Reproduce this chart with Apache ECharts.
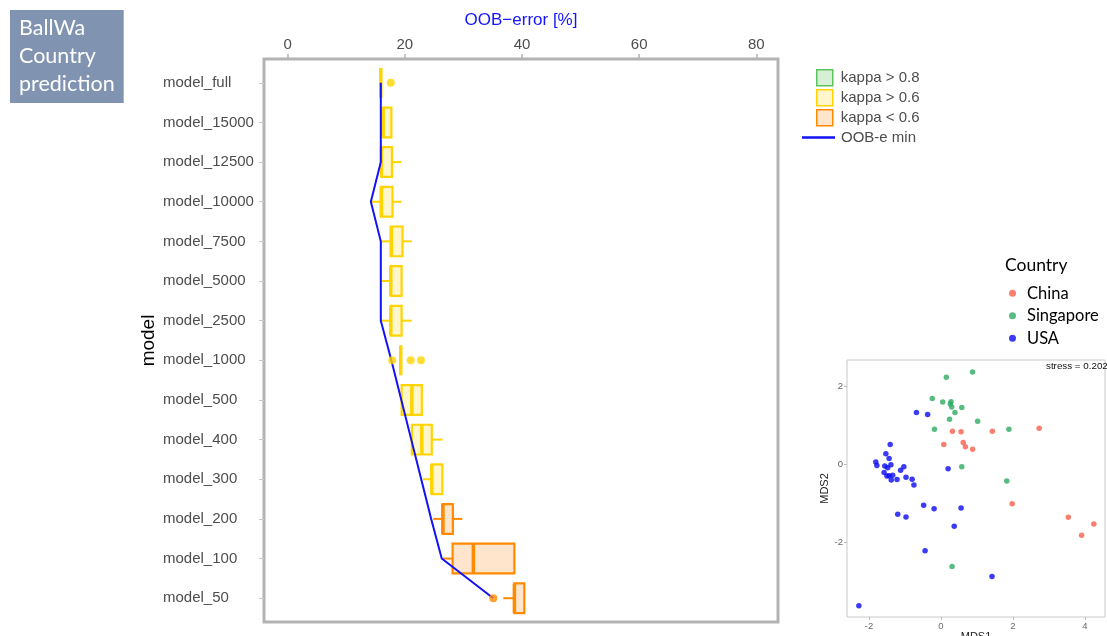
<!DOCTYPE html>
<html>
<head>
<meta charset="utf-8">
<script src="https://cdn.jsdelivr.net/npm/echarts@6/dist/echarts.min.js"></script>
<style>
  html, body { margin: 0; padding: 0; background: #ffffff; }
  #chart { width: 1107px; height: 636px; }
</style>
</head>
<body>
<div id="chart"></div>
<script>
// ---- OOB error per model (random-forest runs), five-number summaries ----
const models = ['model_full', 'model_15000', 'model_12500', 'model_10000', 'model_7500',
  'model_5000', 'model_2500', 'model_1000', 'model_500', 'model_400', 'model_300',
  'model_200', 'model_100', 'model_50'];
const whiskerLow  = [15.9, 16.3, 16.0, 14.2, 15.9, 16.0, 15.9, 19.3, 19.45, 21.2, 23.1, 24.85, 26.45, 36.8];
const quart1      = [15.9, 16.3, 16.0, 15.9, 17.6, 17.6, 17.6, 19.3, 19.45, 21.2, 24.6, 26.45, 28.15, 38.7];
const medians     = [15.9, 16.3, 16.0, 16.0, 17.7, 17.6, 17.6, 19.3, 21.2, 22.9, 24.6, 26.5, 31.7, 38.7];
const quart3      = [15.9, 17.7, 17.8, 17.9, 19.6, 19.45, 19.45, 19.3, 22.9, 24.6, 26.4, 28.2, 38.7, 40.4];
const whiskerHigh = [15.9, 17.7, 19.4, 19.45, 21.2, 19.45, 21.2, 19.3, 22.9, 26.45, 26.4, 29.8, 38.7, 40.4];
// kappa class of each model: 'high' (> 0.8), 'mid' (> 0.6), 'low' (< 0.6)
const kappaClass = ['mid', 'mid', 'mid', 'mid', 'mid', 'mid', 'mid', 'mid', 'mid', 'mid', 'mid', 'low', 'low', 'low'];
const outliers = [['model_full', 17.6], ['model_1000', 17.85], ['model_1000', 21.0], ['model_1000', 22.75], ['model_50', 35.1]];
const oobMin = [15.9, 15.9, 15.9, 14.2, 15.9, 15.9, 15.9, 17.7, 19.4, 21.1, 22.8, 24.5, 26.3, 35.1];
const oobTicks = [0, 20, 40, 60, 80];

// ---- NMDS ordination of samples, by country ----
const chinaPts = [[0.32, 0.85], [0.56, 0.84], [1.43, 0.85], [2.73, 0.93], [0.62, 0.56], [0.08, 0.51],
  [0.68, 0.45], [0.88, 0.39], [1.98, -1.01], [3.54, -1.36], [3.91, -1.82], [4.25, -1.53]];
const singaporePts = [[0.15, 2.24], [0.88, 2.37], [-0.24, 1.69], [0.05, 1.60], [0.28, 1.61], [0.26, 1.55],
  [0.30, 1.47], [0.58, 1.46], [0.39, 1.33], [0.24, 1.16], [1.02, 1.11], [-0.18, 0.90], [1.89, 0.90],
  [0.58, -0.06], [1.83, -0.43], [0.31, -2.62]];
const usaPts = [[-0.68, 1.33], [-0.37, 1.28], [-1.41, 0.51], [-1.53, 0.27], [-1.44, 0.15], [-1.81, 0.06],
  [-1.78, -0.03], [-1.39, -0.01], [-1.56, -0.04], [-1.48, -0.09], [-1.03, -0.06], [-1.12, -0.15],
  [-1.58, -0.21], [-1.44, -0.29], [-1.50, -0.30], [-1.34, -0.28], [-1.38, -0.40], [-1.22, -0.39],
  [-0.97, -0.33], [-0.80, -0.38], [-0.75, -0.53], [0.20, -0.11], [-0.48, -1.05], [-0.19, -1.14],
  [0.56, -1.12], [-1.20, -1.28], [-0.97, -1.35], [0.37, -1.59], [-0.44, -2.22], [1.42, -2.88], [-2.28, -3.63]];
const mdsXTicks = [-2, 0, 2, 4];
const mdsYTicks = [-2, 0, 2];

// ---- styling ----
const ARIAL = 'Arial, "Liberation Sans", sans-serif';
const CALIBRI = 'Lato, "Open Sans", sans-serif';
const kappaStyle = {
  high: { name: 'kappa > 0.8', stroke: '#5CC45C', fill: '#D6F0D6' },
  mid:  { name: 'kappa > 0.6', stroke: '#FFD400', fill: '#FFF6CC' },
  low:  { name: 'kappa < 0.6', stroke: '#FF8A00', fill: '#FFE5CC' }
};

function boxRows(cls) {
  return models.map((m, i) => [i, whiskerLow[i], quart1[i], medians[i], quart3[i], whiskerHigh[i]])
    .filter(r => kappaClass[r[0]] === cls);
}

// horizontal box: whiskers without caps, box from Q1 to Q3, bold median
function boxRenderer(stroke, fill) {
  return function (params, api) {
    const row = api.value(0);
    const lo = api.coord([api.value(1), row]);
    const b1 = api.coord([api.value(2), row]);
    const md = api.coord([api.value(3), row]);
    const b3 = api.coord([api.value(4), row]);
    const hi = api.coord([api.value(5), row]);
    const half = api.size([0, 1])[1] * 0.375;
    const children = [];
    if (b1[0] - lo[0] > 0.5) {
      children.push({ type: 'line', shape: { x1: lo[0], y1: lo[1], x2: b1[0], y2: b1[1] },
        style: { stroke: stroke, lineWidth: 2 } });
    }
    if (hi[0] - b3[0] > 0.5) {
      children.push({ type: 'line', shape: { x1: b3[0], y1: b3[1], x2: hi[0], y2: hi[1] },
        style: { stroke: stroke, lineWidth: 2 } });
    }
    children.push({ type: 'rect', shape: { x: b1[0], y: b1[1] - half, width: b3[0] - b1[0], height: 2 * half },
      style: { fill: fill, stroke: stroke, lineWidth: 2.2 } });
    children.push({ type: 'line', shape: { x1: md[0], y1: md[1] - half, x2: md[0], y2: md[1] + half },
      style: { stroke: stroke, lineWidth: 3.5 } });
    return { type: 'group', children: children };
  };
}

function boxSeries(cls) {
  const s = kappaStyle[cls];
  return {
    name: s.name, type: 'custom', xAxisIndex: 0, yAxisIndex: 0,
    renderItem: boxRenderer(s.stroke, s.fill),
    itemStyle: { color: s.fill, borderColor: s.stroke },
    encode: { x: [1, 2, 3, 4, 5], y: 0 },
    data: boxRows(cls), z: 2
  };
}

const outlierSeries = ['mid', 'low'].map(cls => ({
  type: 'scatter', xAxisIndex: 0, yAxisIndex: 0, symbolSize: 8,
  itemStyle: { color: kappaStyle[cls].stroke },
  data: outliers.filter(o => kappaClass[models.indexOf(o[0])] === cls)
    .map(o => [o[1], models.indexOf(o[0])]),
  z: 4
}));

const chart = echarts.init(document.getElementById('chart'), null, { renderer: 'canvas' });

chart.setOption({
  animation: false,
  backgroundColor: '#ffffff',
  title: [
    {
      text: 'BallWa\nCountry\nprediction', left: 10, top: 10,
      backgroundColor: '#8093B0', padding: [4, 9, 5, 9],
      textStyle: { color: '#ffffff', fontSize: 21.5, lineHeight: 28, fontWeight: 'normal', fontFamily: CALIBRI }
    },
    {
      text: 'Country', left: 1005, top: 256, padding: 0,
      textStyle: { color: '#000000', fontSize: 17.5, fontWeight: 'normal', fontFamily: CALIBRI }
    },
    {
      text: 'stress = 0.202', left: 1046, top: 361, padding: 0,
      textStyle: { color: '#111111', fontSize: 9.8, fontWeight: 'normal', fontFamily: ARIAL }
    }
  ],
  legend: [
    {
      orient: 'vertical', left: 816, top: 69, padding: 0, itemWidth: 16, itemHeight: 16, itemGap: 2.5,
      selectedMode: false,
      textStyle: { color: '#4D4D4D', fontSize: 15, fontFamily: ARIAL, padding: [0, 0, 0, 3] },
      data: ['high', 'mid', 'low'].map(c => ({
        name: kappaStyle[c].name, icon: 'rect',
        itemStyle: { color: kappaStyle[c].fill, borderColor: kappaStyle[c].stroke, borderWidth: 1.5 }
      }))
    },
    {
      orient: 'vertical', left: 802, top: 130, padding: 0, itemWidth: 33, itemHeight: 2.5,
      selectedMode: false,
      textStyle: { color: '#4D4D4D', fontSize: 15, fontFamily: ARIAL, padding: [0, 0, 0, 1] },
      data: [{ name: 'OOB-e min', icon: 'rect', itemStyle: { color: '#1212F5' } }]
    },
    {
      orient: 'vertical', left: 1009, top: 284, padding: 0, itemWidth: 7, itemHeight: 7, itemGap: 4,
      icon: 'circle', selectedMode: false,
      textStyle: { color: '#000000', fontSize: 16.5, lineHeight: 18.5, fontFamily: CALIBRI, padding: [0, 0, 0, 6] },
      data: ['China', 'Singapore', 'USA']
    }
  ],
  grid: [
    { left: 264, top: 59, width: 514, height: 563, show: true, borderColor: '#B3B3B3', borderWidth: 3,
      backgroundColor: 'transparent', outerBoundsMode: 'none', containLabel: false },
    { left: 847, top: 360, width: 258, height: 257, show: true, borderColor: '#C8C8C8', borderWidth: 1,
      backgroundColor: 'transparent', outerBoundsMode: 'none', containLabel: false }
  ],
  xAxis: [
    {
      gridIndex: 0, type: 'value', position: 'top', min: -4.04, max: 83.7,
      name: 'OOB\u2212error [%]', nameLocation: 'middle', nameGap: 30,
      nameTextStyle: { color: '#1414FF', fontSize: 17, fontFamily: ARIAL },
      axisLine: { show: false, onZero: false },
      axisTick: { show: true, length: 5, customValues: oobTicks, lineStyle: { color: '#B3B3B3', width: 1.5 } },
      axisLabel: { customValues: oobTicks, color: '#4D4D4D', fontSize: 15, fontFamily: ARIAL, margin: 7 },
      splitLine: { show: false }
    },
    {
      gridIndex: 1, type: 'value', position: 'bottom', min: -2.61, max: 4.56,
      name: 'MDS1', nameLocation: 'middle', nameGap: 11,
      nameTextStyle: { color: '#222222', fontSize: 11, fontFamily: ARIAL },
      axisLine: { show: false, onZero: false },
      axisTick: { show: true, length: 3, customValues: mdsXTicks, lineStyle: { color: '#BBBBBB' } },
      axisLabel: { customValues: mdsXTicks, color: '#666666', fontSize: 9.5, fontFamily: ARIAL, margin: 4 },
      splitLine: { show: false }
    }
  ],
  yAxis: [
    {
      gridIndex: 0, type: 'value', position: 'left', inverse: true, min: -0.6, max: 13.6,
      name: 'model', nameLocation: 'middle', nameGap: 106, nameRotate: 90,
      nameTextStyle: { color: '#000000', fontSize: 19, fontFamily: ARIAL },
      axisLine: { show: false, onZero: false },
      axisTick: { show: true, length: 5, customValues: models.map((m, i) => i), lineStyle: { color: '#C8C8C8' } },
      axisLabel: {
        customValues: models.map((m, i) => i), formatter: v => models[Math.round(v)],
        align: 'left', margin: 101, color: '#4D4D4D', fontSize: 15, fontFamily: ARIAL
      },
      splitLine: { show: false }
    },
    {
      gridIndex: 1, type: 'value', position: 'left', min: -3.92, max: 2.68,
      name: 'MDS2', nameLocation: 'middle', nameGap: 15, nameRotate: 90,
      nameTextStyle: { color: '#222222', fontSize: 11, fontFamily: ARIAL },
      axisLine: { show: false, onZero: false },
      axisTick: { show: true, length: 3, customValues: mdsYTicks, lineStyle: { color: '#BBBBBB' } },
      axisLabel: { customValues: mdsYTicks, color: '#666666', fontSize: 9.5, fontFamily: ARIAL, margin: 4 },
      splitLine: { show: false }
    }
  ],
  series: [
    boxSeries('high'),
    boxSeries('mid'),
    boxSeries('low'),
    {
      name: 'OOB-e min', type: 'line', xAxisIndex: 0, yAxisIndex: 0,
      symbol: 'none', lineStyle: { color: '#1212F5', width: 2 }, itemStyle: { color: '#1212F5' },
      data: oobMin.map((v, i) => [v, i]), z: 3
    },
    ...outlierSeries,
    { name: 'China', type: 'scatter', xAxisIndex: 1, yAxisIndex: 1, symbolSize: 5.5,
      itemStyle: { color: '#F7604A' }, data: chinaPts },
    { name: 'Singapore', type: 'scatter', xAxisIndex: 1, yAxisIndex: 1, symbolSize: 5.5,
      itemStyle: { color: '#2EAA62' }, data: singaporePts },
    { name: 'USA', type: 'scatter', xAxisIndex: 1, yAxisIndex: 1, symbolSize: 5.5,
      itemStyle: { color: '#0A0AF2' }, data: usaPts }
  ]
});
</script>
</body>
</html>
